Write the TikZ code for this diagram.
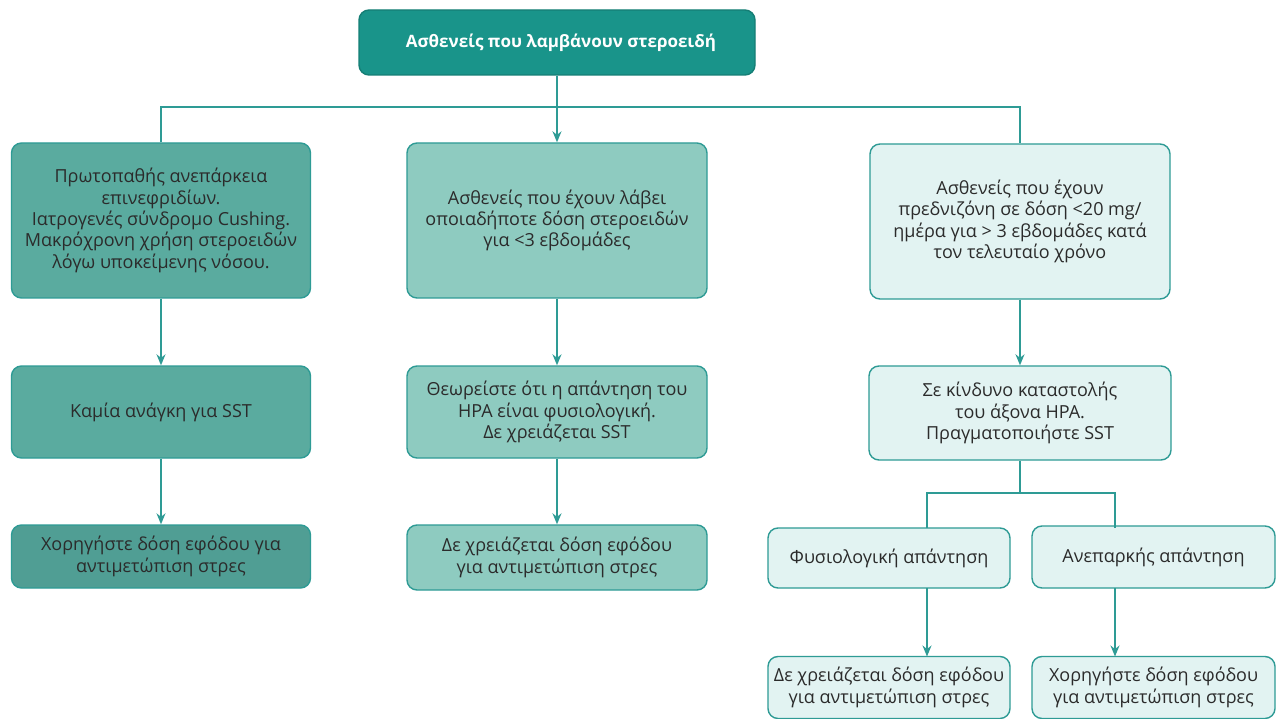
\documentclass[tikz,border=0pt]{standalone}
\usepackage{fontspec}
\setmainfont{Open Sans}
\usetikzlibrary{arrows.meta}
\definecolor{tealtop}{HTML}{19948A}
\definecolor{tealmid}{HTML}{5AAB9F}
\definecolor{tealmidd}{HTML}{509E94}
\definecolor{teallt}{HTML}{8ECBC0}
\definecolor{tealpale}{HTML}{E2F3F2}
\definecolor{tealline}{HTML}{2E9B95}
\definecolor{txtgray}{HTML}{2B2B2B}

\begin{document}
\begin{tikzpicture}[x=1pt,y=1pt]
\useasboundingbox (0,0) rectangle (1277,-719);
\fill[white] (0,0) rectangle (1277,-719);
\tikzstyle{box}=[rectangle, rounded corners=10pt, draw=tealline, line width=1.4pt,
                 align=center, text=txtgray, inner sep=3pt,
                 font=\fontsize{18}{21.3}\selectfont]
\tikzstyle{link}=[draw=tealline, line width=1.4pt]
\tikzstyle{arr}=[link, -{Stealth[length=11pt,width=9pt]}]

\node[box, fill=tealtop, draw=tealtop!85!black, text=white, minimum width=396pt, minimum height=65pt,
      font=\bfseries\fontsize{17}{22}\selectfont](top) at (557,-42.5){\hspace*{8pt}Ασθενείς που λαμβάνουν στεροειδή};

\node[box, fill=tealmid, minimum width=299pt, minimum height=155pt](c1a) at (161,-220.5)
  {Πρωτοπαθής ανεπάρκεια\\επινεφριδίων.\\Ιατρογενές σύνδρομο Cushing.\\Μακρόχρονη χρήση στεροειδών\\λόγω υποκείμενης νόσου.};
\node[box, fill=tealmid, minimum width=299pt, minimum height=92pt](c1b) at (161,-412){Καμία ανάγκη για SST};
\node[box, fill=tealmidd, minimum width=299pt, minimum height=63pt](c1c) at (161,-556.5)
  {Χορηγήστε δόση εφόδου για\\αντιμετώπιση στρες};

\node[box, fill=teallt, minimum width=300pt, minimum height=155pt](c2a) at (557,-220.5)
  {Ασθενείς που έχουν λάβει\\οποιαδήποτε δόση στεροειδών\\για <3 εβδομάδες};
\node[box, fill=teallt, minimum width=300pt, minimum height=92pt](c2b) at (557,-412)
  {Θεωρείστε ότι η απάντηση του\\HPA είναι φυσιολογική.\\Δε χρειάζεται SST};
\node[box, fill=teallt, minimum width=300pt, minimum height=65pt](c2c) at (557,-557.5)
  {Δε χρειάζεται δόση εφόδου\\για αντιμετώπιση στρες};

\node[box, fill=tealpale, minimum width=300pt, minimum height=155pt](c3a) at (1020,-221.5)
  {Ασθενείς που έχουν\\πρεδνιζόνη σε δόση <20 mg/\\ημέρα για > 3 εβδομάδες κατά\\τον τελευταίο χρόνο};
\node[box, fill=tealpale, minimum width=302pt, minimum height=94pt](c3b) at (1020,-413)
  {Σε κίνδυνο καταστολής\\του άξονα HPA.\\Πραγματοποιήστε SST};

\node[box, fill=tealpale, minimum width=242pt, minimum height=60pt](r1) at (889,-558){Φυσιολογική απάντηση};
\node[box, fill=tealpale, minimum width=243pt, minimum height=62pt](r2) at (1153.5,-557){Ανεπαρκής απάντηση};
\node[box, fill=tealpale, minimum width=242pt, minimum height=62pt](r3) at (889,-687.5)
  {Δε χρειάζεται δόση εφόδου\\για αντιμετώπιση στρες};
\node[box, fill=tealpale, minimum width=243pt, minimum height=62pt](r4) at (1153.5,-687.5)
  {Χορηγήστε δόση εφόδου\\για αντιμετώπιση στρες};

\coordinate (bus) at (557,-107);
\coordinate (split) at (1020,-493);
\coordinate (s1) at (927,-528);
\coordinate (s2) at (1115,-528);
\coordinate (t1) at (927,-656.5);
\coordinate (t2) at (1115,-656.5);
\coordinate (u1) at (927,-588);
\coordinate (u2) at (1115,-588);

\draw[link] (top.south) -- (bus);
\draw[link] (c1a.north) |- (bus) -| (c3a.north);
\draw[arr] (bus) -- (c2a.north);
\foreach \i/\j in {c1a/c1b,c1b/c1c,c2a/c2b,c2b/c2c,c3a/c3b}{\draw[arr] (\i) -- (\j);}
\draw[link] (c3b.south) -- (split);
\draw[link] (s1) |- (split) -| (s2);
\draw[arr] (u1) -- (t1);
\draw[arr] (u2) -- (t2);
\end{tikzpicture}
\end{document}
